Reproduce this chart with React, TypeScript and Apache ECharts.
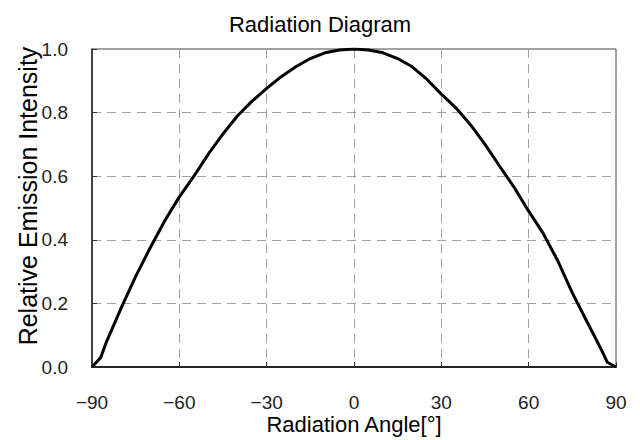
import React, { useEffect, useRef } from "react";
import * as echarts from "echarts";

const angles = [-90, -87, -85, -80, -75, -70, -65, -60, -55, -50, -45, -40, -35, -30, -25, -20, -15, -10, -5, 0, 5, 10, 15, 20, 25, 30, 35, 40, 45, 50, 55, 60, 65, 70, 75, 80, 85, 87, 90];
const intensity = [0, 0.03, 0.08, 0.185, 0.285, 0.375, 0.46, 0.535, 0.6, 0.67, 0.733, 0.79, 0.836, 0.876, 0.913, 0.944, 0.97, 0.988, 0.997, 1.0, 0.997, 0.988, 0.97, 0.944, 0.905, 0.858, 0.815, 0.762, 0.7, 0.632, 0.565, 0.49, 0.42, 0.334, 0.233, 0.143, 0.054, 0.015, 0];

const titleText = "Radiation Diagram";
const xName = "Radiation Angle[°]";
const yName = "Relative Emission Intensity";

export default function App() {
  const ref = useRef<HTMLDivElement>(null);
  useEffect(() => {
    if (!ref.current) return;
    const chart = echarts.init(ref.current, null, { renderer: "svg" });
    const data = angles.map((a, i) => [a, intensity[i]]);
    const font = "'Liberation Sans', Arial, sans-serif";
    chart.setOption({
      animation: false,
      backgroundColor: "#fff",
      title: {
        text: titleText,
        left: "center",
        top: 8,
        textStyle: { fontFamily: font, fontSize: 22, fontWeight: "normal", color: "#000" },
      },
      grid: {
        left: 92,
        right: 24,
        top: 49,
        bottom: 73,
        show: true,
        borderColor: "#444",
        borderWidth: 1,
        outerBoundsMode: "none",
        containLabel: false,
      },
      xAxis: {
        type: "value",
        min: -90,
        max: 90,
        interval: 30,
        name: xName,
        nameLocation: "middle",
        nameGap: 47,
        nameMoveOverlap: false,
        nameTextStyle: { fontFamily: font, fontSize: 22, lineHeight: 20, color: "#000" },
        axisLine: { show: true, onZero: false, lineStyle: { color: "#222", width: 2 } },
        axisTick: { show: true, inside: true, length: 5, lineStyle: { color: "#333" } },
        axisLabel: {
          margin: 26,
          fontFamily: font,
          fontSize: 19,
          lineHeight: 18,
          color: "#222",
          formatter: (v: number) => (v < 0 ? "\u2212" + Math.abs(v) : String(v)),
        },
        splitLine: { show: true, lineStyle: { color: "#a0a0a0", type: [9, 6], width: 1 } },
      },
      yAxis: {
        type: "value",
        min: 0,
        max: 1,
        interval: 0.2,
        name: yName,
        nameLocation: "middle",
        nameRotate: 90,
        nameGap: 52,
        nameMoveOverlap: false,
        nameTextStyle: { fontFamily: font, fontSize: 25, color: "#000", padding: [0, 0, 0, 24] },
        axisLine: { show: true, onZero: false, lineStyle: { color: "#222", width: 1.5 } },
        axisTick: { show: true, inside: true, length: 5, lineStyle: { color: "#333" } },
        axisLabel: {
          margin: 24,
          fontFamily: font,
          fontSize: 19,
          color: "#222",
          formatter: (v: number) => v.toFixed(1),
        },
        splitLine: { show: true, lineStyle: { color: "#a0a0a0", type: [9, 6], width: 1 } },
      },
      series: [
        {
          type: "line",
          data,
          symbol: "none",
          lineStyle: { color: "#000", width: 3 },
          z: 5,
        },
      ],
    });
    return () => chart.dispose();
  }, []);
  return <div ref={ref} style={{ width: 640, height: 440, position: "absolute", left: 0, top: 0 }} />;
}
